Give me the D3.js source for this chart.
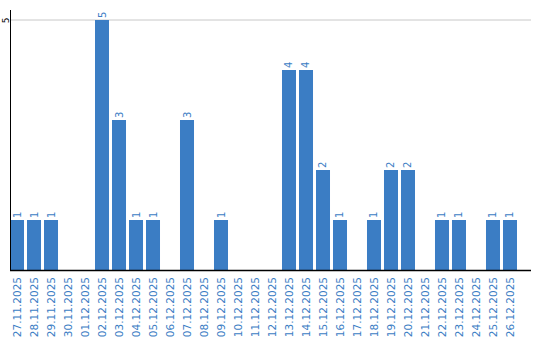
<html>
<head>
<script src="https://d3js.org/d3.v7.min.js"></script>
<style>
  body { margin: 0; background: #fff; }
  svg { font-family: "DejaVu Sans", Verdana, sans-serif; }
</style>
</head>
<body>
<svg width="540" height="340" id="chart"></svg>
<script>
  // daily counts
  var days = ["27.11.2025","28.11.2025","29.11.2025","30.11.2025","01.12.2025","02.12.2025",
              "03.12.2025","04.12.2025","05.12.2025","06.12.2025","07.12.2025","08.12.2025",
              "09.12.2025","10.12.2025","11.12.2025","12.12.2025","13.12.2025","14.12.2025",
              "15.12.2025","16.12.2025","17.12.2025","18.12.2025","19.12.2025","20.12.2025",
              "21.12.2025","22.12.2025","23.12.2025","24.12.2025","25.12.2025","26.12.2025"];
  var counts = [1,1,1,0,0,5,3,1,1,0,3,0,1,0,0,0,4,4,2,1,0,1,2,2,0,1,1,0,1,1];
  var yTicks = [5];

  var blue = "#3b7dc4";
  var svg = d3.select("#chart");

  var x = d3.scaleBand().domain(days).range([10, 517]).paddingInner(0.176).paddingOuter(0);
  var y = d3.scaleLinear().domain([0, 5]).range([270, 20]);

  // grid line
  svg.append("g")
    .selectAll("line").data(yTicks).enter()
    .append("line")
      .attr("x1", 10).attr("x2", 531)
      .attr("y1", function(d) { return y(d); })
      .attr("y2", function(d) { return y(d); })
      .attr("stroke", "#c8c8c8");

  // bars
  svg.append("g")
    .selectAll("rect").data(counts).enter()
    .append("rect")
      .attr("x", function(d, i) { return x(days[i]); })
      .attr("y", function(d) { return y(d); })
      .attr("width", x.bandwidth())
      .attr("height", function(d) { return y(0) - y(d); })
      .attr("fill", blue);

  // value labels
  svg.append("g")
    .selectAll("text").data(counts).enter()
    .append("text")
      .attr("transform", function(d, i) {
        return "translate(" + (x(days[i]) + x.bandwidth() / 2 + 3.5) + "," + (y(d) - 2) + ") rotate(-90)";
      })
      .attr("fill", blue)
      .style("font-size", "10px")
      .text(function(d) { return d > 0 ? d : ""; });

  // y axis
  var yAxis = svg.append("g")
    .attr("transform", "translate(10,0)")
    .call(d3.axisLeft(y).tickValues(yTicks).tickFormat(d3.format("d")).tickSize(0).tickPadding(0));
  yAxis.select(".domain").remove();
  yAxis.selectAll("text")
    .attr("transform", "translate(-1,0) rotate(-90)")
    .attr("x", 0).attr("y", 0).attr("dy", 0)
    .style("text-anchor", "middle")
    .style("font-size", "9px")
    .style("font-family", "DejaVu Sans, sans-serif")
    .attr("fill", "#000");
  svg.append("line")
    .attr("x1", 10.5).attr("x2", 10.5).attr("y1", 10).attr("y2", 270)
    .attr("stroke", "#000");

  // x axis
  var xAxis = svg.append("g")
    .attr("transform", "translate(0,270)")
    .call(d3.axisBottom(x).tickSize(0).tickPadding(0));
  xAxis.select(".domain").remove();
  svg.append("line")
    .attr("x1", 10).attr("x2", 531).attr("y1", 270.5).attr("y2", 270.5)
    .attr("stroke", "#000").attr("stroke-width", 1.5);
  xAxis.selectAll("text")
    .attr("transform", "translate(4,7) rotate(-90)")
    .attr("x", 0).attr("y", 0).attr("dy", 0)
    .style("text-anchor", "end")
    .style("font-size", "10.5px")
    .style("font-family", "DejaVu Sans, sans-serif")
    .attr("fill", blue);
</script>
</body>
</html>
